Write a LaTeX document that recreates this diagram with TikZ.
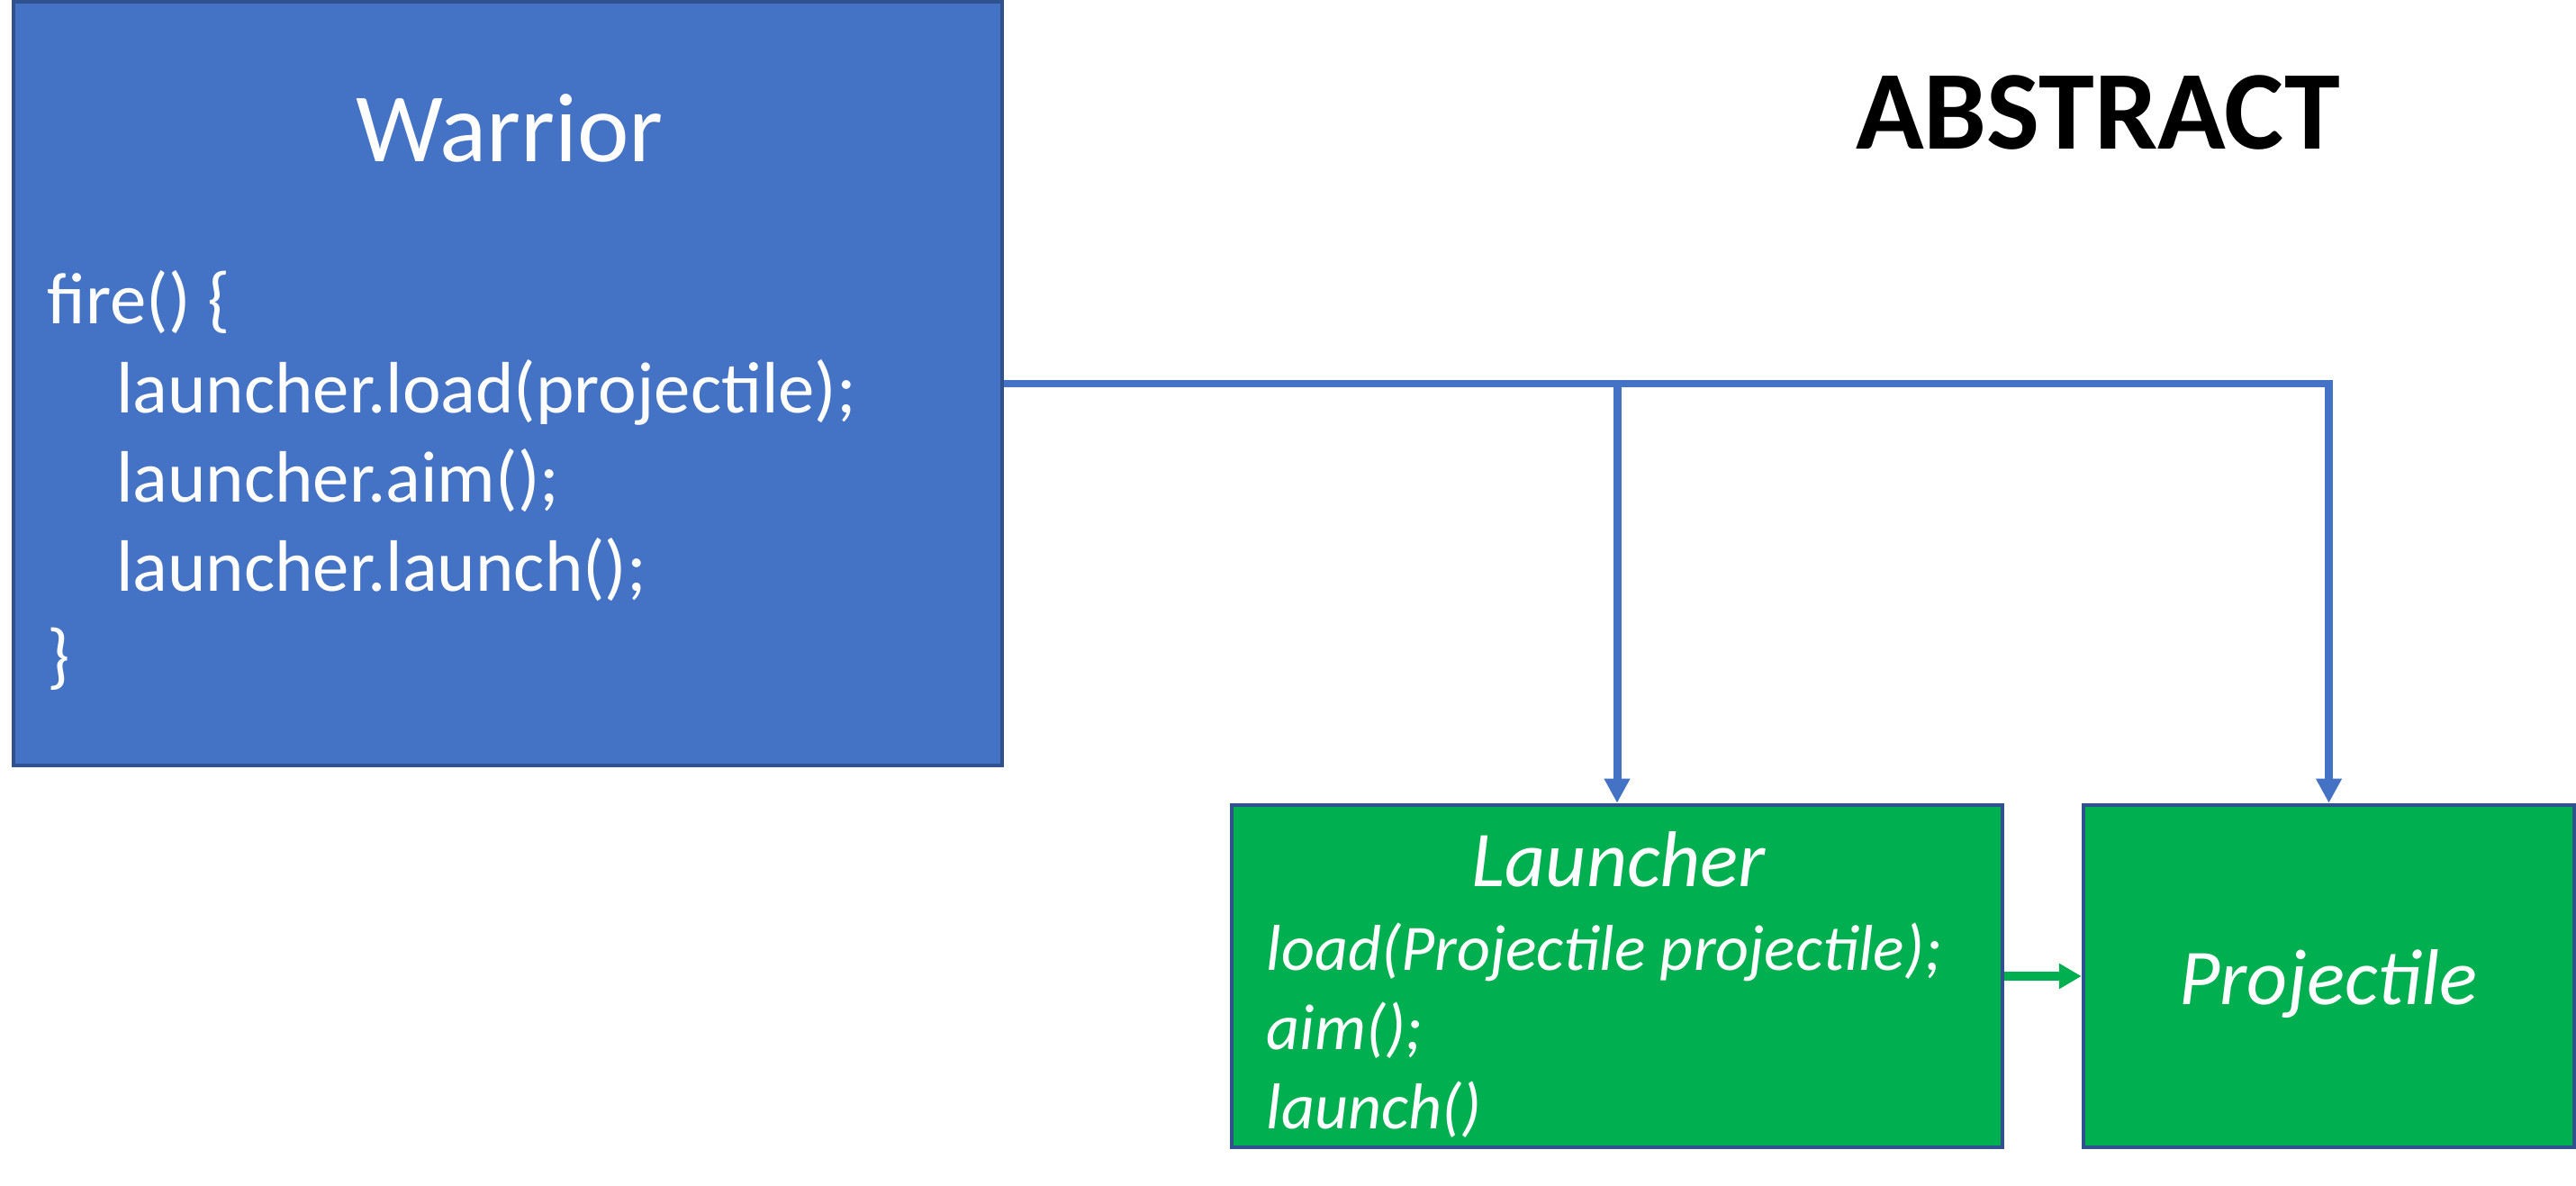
\documentclass[tikz,border=0pt]{standalone}
\usepackage{fontspec}
\setmainfont{Carlito}
\usetikzlibrary{arrows.meta}
\definecolor{boxblue}{HTML}{4472C4}
\definecolor{edgeblue}{HTML}{2F528F}
\definecolor{boxgreen}{HTML}{00B050}
\tikzset{
  classbox/.style={draw=edgeblue, line width=1.3pt, inner sep=0pt},
  boxtext/.style={text=white, inner sep=0pt},
  link/.style={draw=boxblue, line width=2.55pt, -{Triangle[length=0.27cm,width=0.27cm]}},
  uses/.style={draw=boxgreen, line width=2.6pt, -{Triangle[length=0.25cm,width=0.27cm]}}
}
\begin{document}
\begin{tikzpicture}
		\useasboundingbox (0,0) rectangle (28.61,-13.16);
		\node[classbox, fill=boxblue, minimum width=10.98cm, minimum height=8.48cm] (warrior) at (5.64,-4.26) {};
		\node[classbox, fill=boxgreen, minimum width=8.56cm, minimum height=3.80cm] (launcher) at (17.96,-10.84) {};
		\node[classbox, fill=boxgreen, minimum width=5.45cm, minimum height=3.80cm] (projectile) at (25.865,-10.84) {};
		\node[boxtext, anchor=base, font=\fontsize{31}{37}\selectfont] (warrior-name) at (5.66,-1.79) {Warrior};
		\foreach \n/\x/\t in {1/0.52/{fire() \{}, 2/1.285/{launcher.load(projectile);}, 3/1.285/{launcher.aim();}, 4/1.285/{launcher.launch();}, 5/0.52/{\}}}
			{
				\node[boxtext, anchor=base west, font=\fontsize{23}{28}\selectfont] (fire-\n) at (\x,-2.6-0.99*\n) {\t};
			}
		\node[boxtext, anchor=base, font=\itshape\fontsize{25}{30}\selectfont] (launcher-name) at (17.98,-9.84) {Launcher};
		\foreach \n/\t in {1/{load(Projectile projectile);}, 2/{aim();}, 3/{launch()}}
			{
				\node[boxtext, anchor=base west, font=\itshape\fontsize{20.5}{25}\selectfont] (method-\n) at (14.06,-9.89-0.88*\n) {\t};
			}
		\node[boxtext, anchor=base, font=\itshape\fontsize{25}{30}\selectfont] (projectile-name) at (25.86,-11.15) {Projectile};
		\node[anchor=base, inner sep=0pt, font=\bfseries\fontsize{35.5}{42}\selectfont] (abstract) at (23.30,-1.65) {ABSTRACT};
		\draw[link] (warrior.east) -| (launcher.north);
		\draw[link] (warrior.east) -| (projectile.north);
		\draw[uses] (launcher.east) -- (projectile.west);
	\end{tikzpicture}
\end{document}
